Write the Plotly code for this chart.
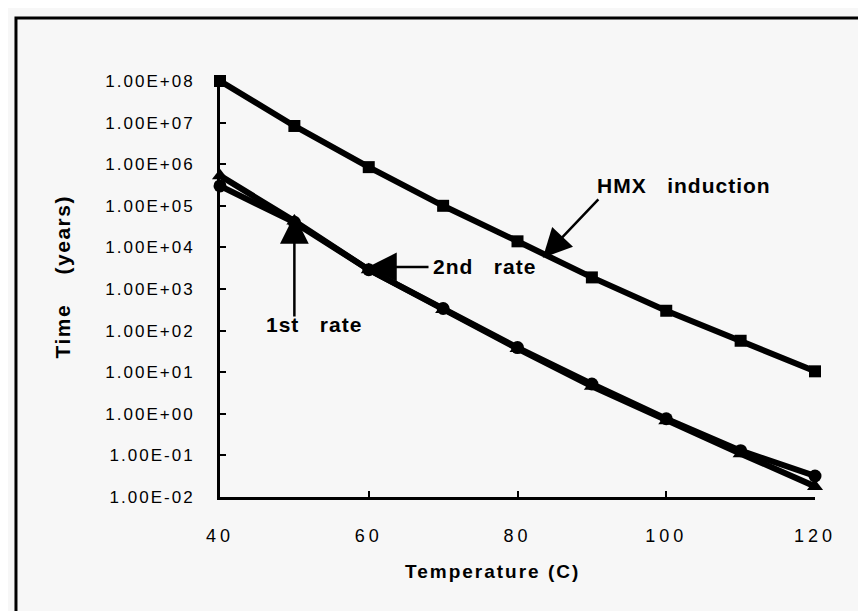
import math
import plotly.graph_objects as go

# ---- data ----
temps = [40, 50, 60, 70, 80, 90, 100, 110, 120]
hmx_induction = [1.0e8, 8.3e6, 8.5e5, 1.0e5, 1.4e4, 1.9e3, 3.0e2, 57, 10.5]
first_rate = [5.3e5, 4.3e4, 2.9e3, 3.2e2, 37, 4.6, 0.68, 0.11, 0.018]
second_rate = [3.0e5, 4.0e4, 2.9e3, 3.4e2, 39, 5.2, 0.76, 0.13, 0.032]

x_tick_vals = [40, 60, 80, 100, 120]
x_tick_text = ["40", "60", "80", "100", "120"]
y_tick_vals = [1e-2, 1e-1, 1e0, 1e1, 1e2, 1e3, 1e4, 1e5, 1e6, 1e7, 1e8]
y_tick_text = ["1.00E-02", "1.00E-01", "1.00E+00", "1.00E+01", "1.00E+02",
               "1.00E+03", "1.00E+04", "1.00E+05", "1.00E+06", "1.00E+07",
               "1.00E+08"]

BG = "#f7f7f7"
INK = "black"
FONT = "Liberation Sans, Arial, sans-serif"


def spaced(t, px):
    return '<span style="letter-spacing:%spx">%s</span>' % (px, t)


fig = go.Figure()
fig.add_trace(go.Scatter(x=temps, y=hmx_induction, mode="lines+markers",
                         name="HMX induction", cliponaxis=False,
                         line=dict(color=INK, width=6),
                         marker=dict(symbol="square", size=12, color=INK)))
fig.add_trace(go.Scatter(x=temps, y=first_rate, mode="lines+markers",
                         name="1st rate", cliponaxis=False,
                         line=dict(color=INK, width=6),
                         marker=dict(symbol="triangle-up", size=14, color=INK)))
fig.add_trace(go.Scatter(x=temps, y=second_rate, mode="lines+markers",
                         name="2nd rate", cliponaxis=False,
                         line=dict(color=INK, width=6),
                         marker=dict(symbol="circle", size=13, color=INK)))

axis_common = dict(showline=True, linecolor=INK, linewidth=3, mirror=False,
                   ticks="inside", ticklen=6, tickwidth=2, tickcolor=INK,
                   showgrid=False, zeroline=False)

fig.update_xaxes(range=[40, 120], tickvals=x_tick_vals,
                 ticktext=[spaced(t, 4) for t in x_tick_text],
                 tickfont=dict(family=FONT, size=18, color=INK),
                 ticklabelstandoff=20, **axis_common)
fig.update_yaxes(type="log", range=[-2, 8], tickvals=y_tick_vals,
                 ticktext=[spaced(t, 2) for t in y_tick_text],
                 tickfont=dict(family=FONT, size=17, color=INK),
                 ticklabelstandoff=19, **axis_common)

lbl = dict(family=FONT, size=21, color=INK)

annotations = [
    # arrows (tip at data point, tail offset in px)
    dict(x=50, y=4.78, text="", showarrow=True, ax=0, ay=103,
         arrowhead=2, arrowsize=2.3, arrowwidth=2.5, arrowcolor=INK),
    dict(x=59.9, y=3.53, text="", showarrow=True, ax=62, ay=0,
         arrowhead=2, arrowsize=2.3, arrowwidth=2.5, arrowcolor=INK),
    dict(x=83.4, y=3.75, text="", showarrow=True, ax=57, ay=-60,
         arrowhead=2, arrowsize=2.3, arrowwidth=2.5, arrowcolor=INK),
    # labels
    dict(x=52.6, y=2.135, text="<b>" + spaced("1st   rate", 1) + "</b>",
         showarrow=False, font=lbl, xanchor="center", yanchor="middle"),
    dict(x=68.4, y=3.54, text="<b>" + spaced("2nd   rate", 1) + "</b>",
         showarrow=False, font=lbl, xanchor="left", yanchor="middle"),
    dict(x=90.4, y=5.5, text="<b>" + spaced("HMX   induction", 1) + "</b>",
         showarrow=False, font=lbl, xanchor="left", yanchor="middle"),
    # axis titles
    dict(xref="paper", yref="paper", x=-0.264, y=0.53,
         text="<b>" + spaced("Time    (years)", 1.5) + "</b>", textangle=-90,
         showarrow=False, font=dict(family=FONT, size=21, color=INK),
         xanchor="center", yanchor="middle"),
    dict(xref="paper", yref="paper", x=0.458, y=-0.178,
         text="<b>" + spaced("Temperature (C)", 2) + "</b>", showarrow=False,
         font=dict(family=FONT, size=19, color=INK),
         xanchor="center", yanchor="middle"),
]
for a in annotations:
    a.setdefault("xref", "x")
    a.setdefault("yref", "y")
    fig.add_annotation(**a)

# outer frame around the figure (its bottom edge lies below the picture)
fig.add_shape(type="rect", xref="paper", yref="paper",
              x0=-0.3429, x1=1.0857, y0=-0.40, y1=1.1514,
              line=dict(color=INK, width=3), fillcolor="rgba(0,0,0,0)",
              layer="above")

fig.update_layout(width=866, height=611,
                  margin=dict(l=212, r=59, t=73, b=122),
                  paper_bgcolor=BG, plot_bgcolor=BG,
                  showlegend=False,
                  font=dict(family=FONT, color=INK))

fig.write_html("out.html")
